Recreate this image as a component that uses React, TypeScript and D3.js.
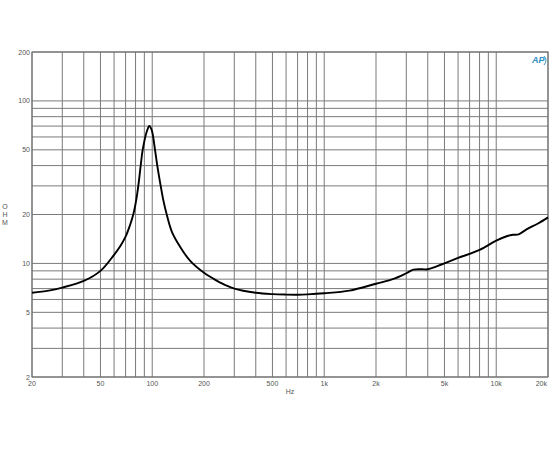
import React from "react";
import * as d3 from "d3";

const freqs = [20, 25, 30, 40, 50, 60, 65, 70, 74, 77.6, 80.7, 83, 85.7, 88, 93.6, 96.2, 99.3, 103.8, 107, 112, 116, 121.4, 130.3, 145, 165.8, 200, 225, 250, 300, 400, 500, 600, 700, 800, 1000, 1400, 2000, 2500, 3000, 3300, 3700, 4000, 4500, 5000, 6000, 8000, 10000, 11500, 12500, 13500, 15000, 17500, 20000];
const ohms = [6.6, 6.8, 7.1, 7.8, 9.0, 11.3, 12.7, 14.6, 17, 20, 24.5, 30, 40, 50, 66.2, 70.1, 66.2, 50, 40, 30, 24.5, 20, 15.6, 12.7, 10.4, 8.75, 8.1, 7.6, 7.0, 6.6, 6.47, 6.43, 6.42, 6.45, 6.55, 6.8, 7.5, 8.0, 8.7, 9.15, 9.2, 9.2, 9.6, 10.0, 10.8, 12.1, 13.8, 14.7, 15.0, 15.1, 16.2, 17.6, 19.2];

const xTickValues = [20, 50, 100, 200, 500, 1000, 2000, 5000, 10000, 20000];
const xTickLabels = ["20", "50", "100", "200", "500", "1k", "2k", "5k", "10k", "20k"];
const yTickValues = [2, 5, 10, 20, 50, 100, 200];
const yTickLabels = ["2", "5", "10", "20", "50", "100", "200"];

function logGrid(min: number, max: number): number[] {
  const out: number[] = [];
  for (let e = -1; e < 6; e++) {
    for (let k = 1; k <= 9; k++) {
      const v = k * Math.pow(10, e);
      if (v >= min - 1e-9 && v <= max + 1e-9) out.push(v);
    }
  }
  return out;
}

export default function App() {
  const W = 550, H = 450;
  const left = 32, right = 548, top = 52, bottom = 377;
  const x = d3.scaleLog().domain([20, 20000]).range([left, right]);
  const y = d3.scaleLog().domain([2, 200]).range([bottom, top]);
  const data = freqs.map((f, i) => [f, ohms[i]] as [number, number]);
  const line = d3
    .line<[number, number]>()
    .x((d) => x(d[0]))
    .y((d) => y(d[1]))
    .curve(d3.curveCatmullRom.alpha(0.5));
  const xGrid = logGrid(20, 20000);
  const yGrid = logGrid(2, 200);
  const font = "Arial, 'Liberation Sans', sans-serif";
  return (
    <svg width={W} height={H} style={{ position: "absolute", left: 0, top: 0, background: "#fff" }}>
      <rect x={0} y={0} width={W} height={H} fill="#fff" />
      {xGrid.map((v) => (
        <line key={"x" + v} x1={x(v)} x2={x(v)} y1={top} y2={bottom} stroke="#7a7a7a" strokeWidth={1} />
      ))}
      {yGrid.map((v) => (
        <line key={"y" + v} x1={left} x2={right} y1={y(v)} y2={y(v)} stroke="#7a7a7a" strokeWidth={1} />
      ))}
      <rect x={left} y={top} width={right - left} height={bottom - top} fill="none" stroke="#6a6a6a" strokeWidth={1} />
      <path d={line(data) || ""} fill="none" stroke="#000" strokeWidth={1.9} strokeLinejoin="round" />
      {yTickValues.map((v, i) => (
        <text key={"yl" + v} x={30} y={y(v) + 2.5} textAnchor="end" fontSize={7} fill="#555" fontFamily={font}>
          {yTickLabels[i]}
        </text>
      ))}
      {xTickValues.map((v, i) => {
        const last = i === xTickValues.length - 1;
        return (
          <text
            key={"xl" + v}
            x={last ? x(v) - 1 : x(v)}
            y={386}
            textAnchor={last ? "end" : "middle"}
            fontSize={7}
            fill="#555"
            fontFamily={font}
          >
            {xTickLabels[i]}
          </text>
        );
      })}
      <text x={290} y={394} textAnchor="middle" fontSize={7} fill="#555" fontFamily={font}>
        Hz
      </text>
      {["O", "H", "M"].map((c, i) => (
        <text key={c} x={5} y={209 + i * 8} textAnchor="middle" fontSize={7} fill="#555" fontFamily={font}>
          {c}
        </text>
      ))}
      <g transform="translate(532,55)">
        <text x={0} y={8} fontSize={9} fontStyle="italic" fontWeight="bold" fill="#2f8fc4" fontFamily={font}>
          AP
        </text>
        <path d="M12,1 Q16,5 12,10" fill="none" stroke="#2f8fc4" strokeWidth={1} />
      </g>
    </svg>
  );
}
